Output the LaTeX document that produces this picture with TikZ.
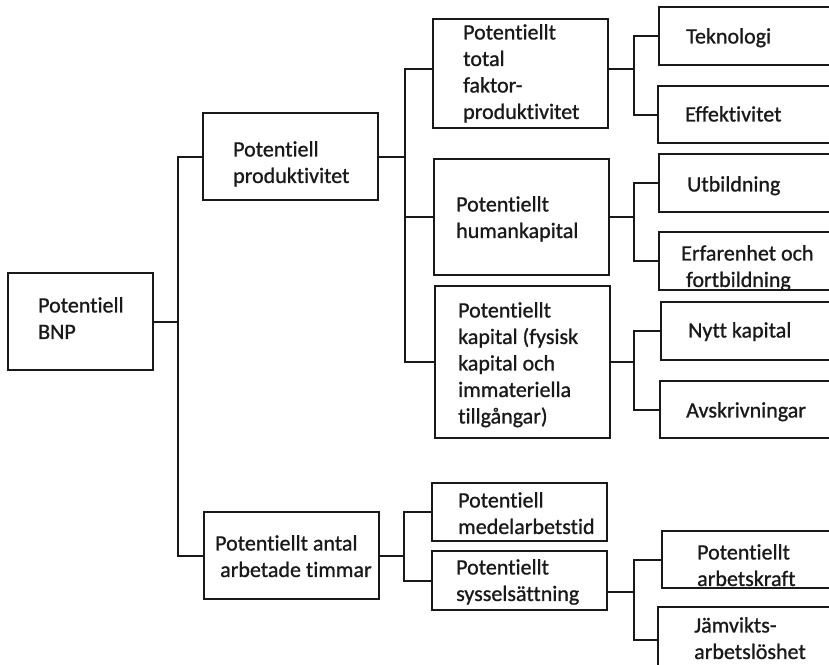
\documentclass[tikz,border=0pt]{standalone}
\usepackage{fontspec}
\setmainfont{Carlito}[Ligatures=NoCommon, FakeBold=0.9]
\usetikzlibrary{fit}
\begin{document}
\begin{tikzpicture}[x=1pt,y=-1pt,
  box/.style={draw=black!90, line width=2pt, inner sep=0pt, rectangle},
  txt/.style={inner sep=0pt, anchor=north west, align=left, text=black!90,
              font=\fontsize{22}{26.5}\selectfont},
  link/.style={draw=black!90, line width=2pt}]
\clip (0,0) rectangle (829,664);
\fill[white] (0,0) rectangle (829,664);

% boxes, from corner to corner
\node[box, fit={(8,273) (153,370)}]   (bnp) {};
\node[box, fit={(203,113) (378,200)}] (pp)  {};
\node[box, fit={(204,512) (379,599)}] (pat) {};
\node[box, fit={(433,19) (608,128)}]  (tfp) {};
\node[box, fit={(434,159) (609,275)}] (hk)  {};
\node[box, fit={(435,286) (610,438)}] (kap) {};
\node[box, fit={(432,483) (607,541)}] (med) {};
\node[box, fit={(432,551) (607,610)}] (sys) {};
\node[box, fit={(659,7) (845,65)}]    (tek) {};
\node[box, fit={(658,86) (845,143)}]  (eff) {};
\node[box, fit={(659,154) (845,212)}] (utb) {};
\node[box, fit={(659,232) (845,290)}] (erf) {};
\node[box, fit={(661,302) (845,360)}] (nyk) {};
\node[box, fit={(660,381) (845,438)}] (avs) {};
\node[box, fit={(662,531) (845,588)}] (ak)  {};
\node[box, fit={(658,607) (845,670)}] (jam) {};

% labels
\node[txt] (bnp-t) at (38,297)  {Potentiell\\BNP};
\node[txt] (pp-t)  at (233,141) {Potentiell\\produktivitet};
\node[txt] (pat-t) at (215,535) {Potentiellt antal\\\hspace{5pt}arbetade timmar};
\node[txt] (tfp-t) at (463,24)  {Potentiellt\\total\\faktor-\\produktivitet};
\node[txt] (hk-t)  at (456,196) {Potentiellt\\humankapital};
\node[txt] (kap-t) at (458,302) {Potentiellt\\kapital (fysisk\\kapital och\\immateriella\\tillgångar)};
\node[txt] (med-t) at (458,492) {Potentiell\\medelarbetstid};
\node[txt] (sys-t) at (456,559) {Potentiellt\\sysselsättning};
\node[txt] (tek-t) at (686,28)  {Teknologi};
\node[txt] (eff-t) at (685,106) {Effektivitet};
\node[txt] (utb-t) at (687,176) {Utbildning};
\node[txt] (erf-t) at (681,245) {Erfarenhet och\\\hspace{5pt}fortbildning};
\node[txt] (nyk-t) at (688,322) {Nytt kapital};
\node[txt] (avs-t) at (686,402) {Avskrivningar};
\node[txt] (ak-t)  at (697,544) {Potentiellt\\arbetskraft};
\node[txt] (jam-t) at (694,617) {Jämvikts-\\arbetslöshet};

% vertical trunks of each branching
\coordinate (x1) at (178,0);
\coordinate (x2) at (405,0);
\coordinate (x3) at (404,0);
\coordinate (x4) at (634,0);

% connectors
\coordinate (tfp-in) at ([yshift=4.5pt]tfp.west);
\coordinate (tfp-out) at ([yshift=4.5pt]tfp.east);
\coordinate (sys-out) at ([yshift=-11pt]sys.east);

\draw[link] (bnp.east) -- (bnp.east -| x1);
\draw[link] (pp.west) -- (pp.west -| x1) -- (pat.west -| x1) -- (pat.west);

\draw[link] (pp.east) -- (pp.east -| x2);
\draw[link] (tfp-in) -- (tfp-in -| x2) -- (kap.west -| x2) -- (kap.west);
\draw[link] (hk.west) -- (hk.west -| x2);

\draw[link] (pat.east) -- (pat.east -| x3);
\draw[link] (med.west) -- (med.west -| x3) -- (sys.west -| x3) -- (sys.west);

\draw[link] (tfp-out) -- (tfp-out -| x4);
\draw[link] (tek.west) -- (tek.west -| x4) -- (eff.west -| x4) -- (eff.west);

\draw[link] (hk.east) -- (hk.east -| x4);
\draw[link] (utb.west) -- (utb.west -| x4) -- (erf.west -| x4) -- (erf.west);

\draw[link] (kap.east) -- (kap.east -| x4);
\draw[link] (nyk.west) -- (nyk.west -| x4) -- (avs.west -| x4) -- (avs.west);

\draw[link] (sys-out) -- (sys-out -| x4);
\draw[link] (ak.west) -- (ak.west -| x4) -- ([yshift=-1.5pt]jam.west -| x4) -- ([yshift=-1.5pt]jam.west);
\end{tikzpicture}
\end{document}
